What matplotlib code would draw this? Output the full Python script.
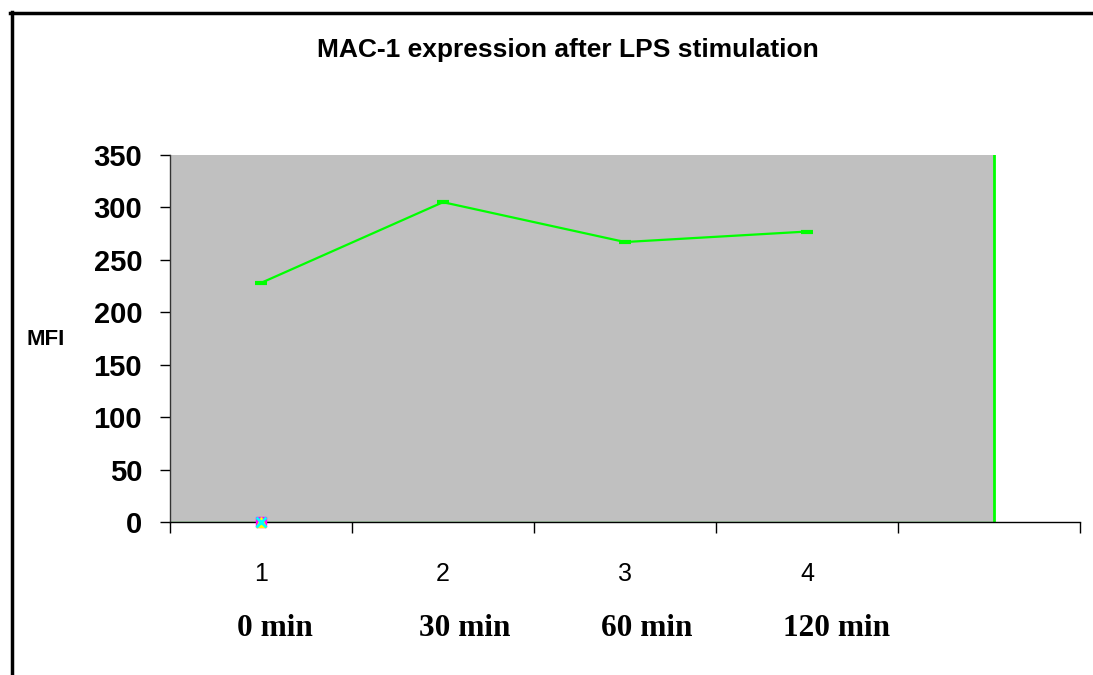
import numpy as np
from matplotlib import pyplot as plt
from matplotlib.patches import Rectangle

# data
categories = [1, 2, 3, 4]
time_labels = ['0 min', '30 min', '60 min', '120 min']
mfi = [228, 305, 267, 277]
zero_series = [0]          # other series, only a point at category 1
y_ticks = [0, 50, 100, 150, 200, 250, 300, 350]

plot_bg_right = 5.03       # gray plot area ends before the last category slot
green = '#00FF00'

plt.rcParams['font.family'] = ['Liberation Sans', 'DejaVu Sans']

fig = plt.figure(figsize=(10.93, 6.75), dpi=100)
ax = fig.add_axes([170 / 1093, 153 / 675, 910 / 1093, 367 / 675])

ax.set_xlim(0.5, 5.5)
ax.set_ylim(0, 350)
ax.set_facecolor('white')

# gray plot area plus green edge line
ax.add_patch(Rectangle((0.5, 0), plot_bg_right - 0.5, 350, facecolor='#C0C0C0',
                       edgecolor='none', zorder=0))
ax.axvline(plot_bg_right, color=green, lw=2, zorder=2)
ax.plot([0.5, plot_bg_right], [0, 0], color=green, lw=1, alpha=0.6, zorder=2)

# main series
ax.plot(categories, mfi, color=green, lw=1.6, marker='_', markersize=8,
        markeredgewidth=3, zorder=3)

# overlapping series at zero
ax.plot(categories[:1], zero_series, marker='s', color='#FF00FF', markersize=7,
        ls='none', zorder=4, clip_on=False)
ax.plot(categories[:1], zero_series, marker='^', color='#FFFF00', markersize=7,
        ls='none', zorder=5, clip_on=False)
ax.plot(categories[:1], zero_series, marker='x', color='#00FFFF', markersize=7,
        markeredgewidth=2, ls='none', zorder=6, clip_on=False)

# spines
for side in ['top', 'right']:
    ax.spines[side].set_visible(False)
ax.spines['left'].set_color('#333333')
ax.spines['left'].set_linewidth(1)
ax.spines['bottom'].set_color('black')
ax.spines['bottom'].set_linewidth(1)

# y axis
ax.set_yticks(y_ticks)
ax.set_yticklabels([str(v) for v in y_ticks], fontsize=21, fontweight='bold')
ax.tick_params(axis='y', direction='out', length=7, width=1, pad=13)

# x axis: category numbers, ticks between categories
ax.set_xticks(categories)
ax.set_xticklabels([str(c) for c in categories], fontsize=18)
ax.set_xticks(np.arange(0.5, 6, 1), minor=True)
ax.tick_params(axis='x', which='major', length=0, pad=29)
ax.tick_params(axis='x', which='minor', direction='out', length=8, width=1)

# time labels below
for c, lab in zip(categories, time_labels):
    ax.text(c - 0.13, -0.29, lab, transform=ax.get_xaxis_transform(),
            ha='left', va='center', fontsize=22.5, fontweight='bold',
            family='Liberation Serif')

fig.text(46 / 1093, 1 - 340 / 675, 'MFI', ha='center', va='center',
         fontsize=16, fontweight='bold')
fig.text(568 / 1093, 1 - 50 / 675, 'MAC-1 expression after LPS stimulation',
         ha='center', va='center', fontsize=19, fontweight='bold')

# outer frame (left and top only)
fig.add_artist(plt.Line2D([11.5 / 1093, 11.5 / 1093], [0, 1 - 12 / 675],
                          color='black', lw=2.5, transform=fig.transFigure))
fig.add_artist(plt.Line2D([10 / 1093, 1], [1 - 12.5 / 675, 1 - 12.5 / 675],
                          color='black', lw=2.5, transform=fig.transFigure))

fig.savefig('out.png', dpi=100)
